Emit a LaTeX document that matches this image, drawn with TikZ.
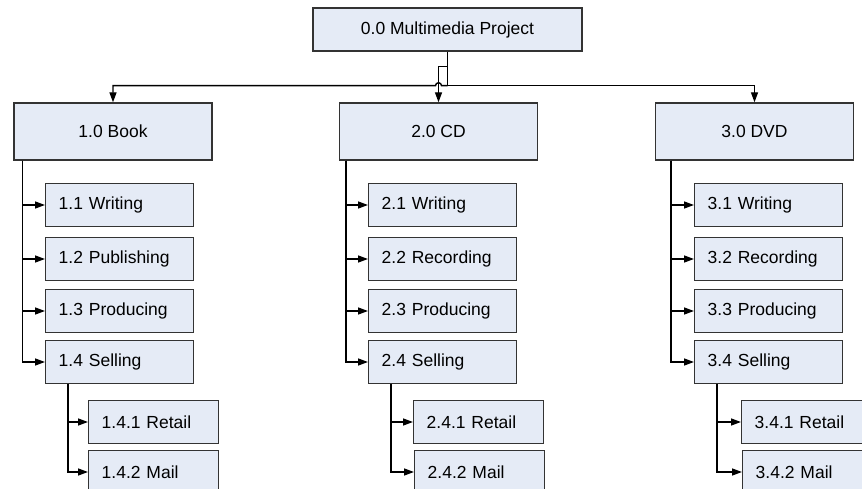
\documentclass[tikz,border=0pt]{standalone}
\usepackage{fontspec}
\setmainfont{Liberation Sans}
\usetikzlibrary{arrows.meta}
\usetikzlibrary{positioning}
\usetikzlibrary{calc}
\definecolor{boxfill}{HTML}{E5EBF6}
\definecolor{boxline}{HTML}{333333}
\tikzstyle{box}=[draw=boxline,fill=boxfill,line width=1.4pt,inner sep=0pt,font=\fontsize{17.5}{20}\selectfont]
\tikzstyle{rootbox}=[box,minimum width=269pt,minimum height=43pt]
\tikzstyle{topbox}=[box,minimum width=198pt,minimum height=57pt]
\tikzstyle{subbox}=[box,anchor=west,minimum height=43pt,text width=122pt,inner xsep=13pt,align=left]
\tikzstyle{leafbox}=[box,anchor=west,minimum height=43pt,text width=104pt,inner xsep=13pt,align=left]
\tikzstyle{connector}=[draw,line width=1.4pt,-{Triangle[length=10pt,width=7pt]}]

\begin{document}
\begin{tikzpicture}[x=1pt,y=-1pt]
    \path[use as bounding box,clip] (0,0) rectangle (862,489);

    \def\ya{205};
    \def\yb{259};
    \def\yc{311};
    \def\yd{362};
    \def\ye{422};
    \def\yf{472};

% Root
    \node[rootbox] (root) at (447.5,29.5) {0.0 Multimedia Project};

%layer 1
    \foreach \pos/\name/\label in {{(113,131.5)/book/1.0 Book}, {(438.5,131.5)/cd/2.0 CD}, {(754.5,131.5)/dvd/3.0 DVD}}
        \node[topbox] (\name) at \pos {\label};

%layer 2
    \foreach \pos/\name/\label in {{(45,\ya)/b1/1.1 Writing}, {(45,\yb)/b2/1.2 Publishing}, {(45,\yc)/b3/1.3 Producing}, {(45,\yd)/b4/1.4 Selling},
        {(368,\ya)/c1/2.1 Writing}, {(368,\yb)/c2/2.2 Recording}, {(368,\yc)/c3/2.3 Producing}, {(368,\yd)/c4/2.4 Selling},
        {(694,\ya)/d1/3.1 Writing}, {(694,\yb)/d2/3.2 Recording}, {(694,\yc)/d3/3.3 Producing}, {(694,\yd)/d4/3.4 Selling}}
        \node[subbox] (\name) at \pos {\label};

%layer 3
    \foreach \pos/\name/\label in {{(88,\ye)/b41/1.4.1 Retail}, {(88,\yf)/b42/1.4.2 Mail},
        {(413,\ye)/c41/2.4.1 Retail}, {(414,\yf)/c42/2.4.2 Mail},
        {(741,\ye)/d41/3.4.1 Retail}, {(742,\yf)/d42/3.4.2 Mail}}
        \node[leafbox] (\name) at \pos {\label};

% Edges
    %root
    \path (root.south) ++(0,34) coordinate (bus);
    \path (root.south) ++(0,15) coordinate (jog);
    \draw[connector] (root.south) -- (bus) -| (dvd.north);
    \draw[connector] (bus) -- ($(cd.north |- bus)+(3,0)$) arc[start angle=360,end angle=180,radius=3] -| (book.north);
    \draw[connector] (jog) -| (cd.north);

    %layer 1
    \foreach \top/\dx/\kids in {book/9/{b1,b2,b3,b4}, cd/7/{c1,c2,c3,c4}, dvd/16/{d1,d2,d3,d4}}
        \foreach \k in \kids
            \draw[connector] ($(\top.south west)+(\dx,0)$) |- (\k.west);

    %layer 2
    \foreach \top/\kids in {b4/{b41,b42}, c4/{c41,c42}, d4/{d41,d42}}
        \foreach \k in \kids
            \draw[connector] ($(\top.south west)+(23,0)$) |- (\k.west);

\end{tikzpicture}
\end{document}
